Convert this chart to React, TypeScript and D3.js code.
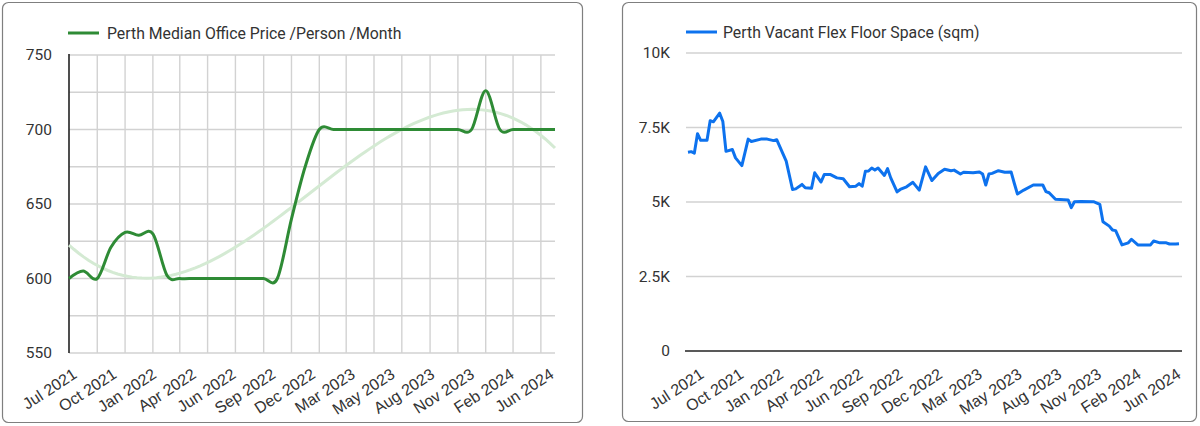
import React from "react";
import * as d3 from "d3";

// ---- Left panel: Perth median office price per person per month (monthly) ----
const priceStart = new Date(2021, 6, 1);
const priceEnd = new Date(2024, 6, 1);
const priceMonths: Date[] = d3.timeMonths(priceStart, priceEnd);
const medianPrice = [
  600, 605, 600, 621, 631, 629, 630, 602, 600, 600, 600, 600,
  600, 600, 600, 600, 640, 675, 700, 700, 700, 700, 700, 700,
  700, 700, 700, 700, 700, 700, 726, 700, 700, 700, 700, 700,
];
const priceTicks = [550, 600, 650, 700, 750];
const priceGridTicks = [550, 575, 600, 625, 650, 675, 700, 725, 750];

// ---- Right panel: vacant flex floor space (weekly samples) ----
const firstWeek = new Date(2021, 6, 5);
const vacantWeek = [
  0, 1, 2, 3, 4, 6, 7, 8, 10, 11, 12, 14, 15, 17, 19, 20, 23, 25, 27, 28,
  31, 33, 34, 36, 37, 39, 40, 42, 43, 45, 47, 49, 51, 53, 54, 55, 56, 57, 58, 59,
  60, 62, 63, 64, 66, 67, 69, 71, 73, 75, 77, 79, 81, 83, 84, 86, 87, 90, 92, 93,
  94, 95, 96, 98, 100, 102, 103, 104, 106, 109, 112, 113, 114, 116, 120, 121, 122, 124, 128, 130,
  131, 133, 134, 135, 137, 139, 140, 142, 146, 147, 149, 151, 152, 154, 155,
];
const vacantSqm = [
  6670, 6690, 6640, 7290, 7070, 7070, 7730, 7690, 7980, 7700, 6700, 6760, 6480, 6220, 7110, 7030, 7110, 7110, 7060, 7090,
  6370, 5420, 5440, 5590, 5480, 5460, 5980, 5670, 5920, 5920, 5810, 5780, 5510, 5530, 5620, 5530, 6030, 6040, 6140, 6070,
  6140, 5890, 6120, 5810, 5340, 5420, 5510, 5660, 5400, 6180, 5720, 5960, 6100, 6050, 6070, 5940, 6000, 5980, 6010, 5940,
  5570, 5940, 5960, 6050, 6000, 6010, 5630, 5270, 5400, 5570, 5570, 5350, 5310, 5090, 5070, 4810, 5010, 5020, 5010, 4920,
  4340, 4190, 4060, 4040, 3560, 3630, 3750, 3560, 3560, 3690, 3630, 3630, 3590, 3590, 3600,
];
const vacantTicks = [0, 2500, 5000, 7500, 10000];

const xTickLabels = [
  "Jul 2021", "Oct 2021", "Jan 2022", "Apr 2022", "Jun 2022", "Sep 2022", "Dec 2022",
  "Mar 2023", "May 2023", "Aug 2023", "Nov 2023", "Feb 2024", "Jun 2024",
];

const priceLabel = "Perth Median Office Price /Person /Month";
const vacantLabel = "Perth Vacant Flex Floor Space (sqm)";

const GREEN = "#2e8b35";
const TREND = "#d4ead3";
const BLUE = "#0d72ee";
const GRID = "#d2d2d2";
const TEXT = "#333333";
const FONT = "Roboto, 'Noto Sans', sans-serif";
const AXIS_FONT = "'Liberation Sans', Arial, sans-serif";

// Least-squares cubic fit used for the trend line
function cubicFit(xs: number[], ys: number[]) {
  const n = 4;
  const A: number[][] = Array.from({ length: n }, () => new Array(n + 1).fill(0));
  xs.forEach((x, k) => {
    for (let r = 0; r < n; r++) {
      for (let c = 0; c < n; c++) A[r][c] += Math.pow(x, r + c);
      A[r][n] += ys[k] * Math.pow(x, r);
    }
  });
  for (let i = 0; i < n; i++) {
    let p = i;
    for (let r = i + 1; r < n; r++) if (Math.abs(A[r][i]) > Math.abs(A[p][i])) p = r;
    [A[i], A[p]] = [A[p], A[i]];
    for (let r = 0; r < n; r++) {
      if (r === i) continue;
      const f = A[r][i] / A[i][i];
      for (let c = i; c <= n; c++) A[r][c] -= f * A[i][c];
    }
  }
  const coef = A.map((row, i) => row[n] / row[i]);
  return (x: number) => coef.reduce((s, c, i) => s + c * Math.pow(x, i), 0);
}

function XLabels({ xs, y }: { xs: d3.ScalePoint<string>; y: number }) {
  return (
    <g fontFamily={AXIS_FONT}>
      {xTickLabels.map((t) => (
        <text
          key={t}
          transform={`translate(${xs(t)},${y}) rotate(-33)`}
          textAnchor="end"
          fontSize={16}
          fill={TEXT}
        >
          {t}
        </text>
      ))}
    </g>
  );
}

function PriceChart() {
  const left = 69, right = 555, top = 55, bottom = 353;
  const x = d3.scaleTime().domain([priceMonths[0], priceMonths[priceMonths.length - 1]]).range([left, right]);
  const y = d3.scaleLinear().domain([550, 750]).range([bottom, top]);
  const data = priceMonths.map((d, i) => ({ d, v: medianPrice[i] }));

  const t0 = +priceMonths[0];
  const span = +priceMonths[priceMonths.length - 1] - t0;
  const fit = cubicFit(priceMonths.map((d) => (+d - t0) / span), medianPrice);
  const trendDates = d3.range(0, 1.0001, 0.01).map((f) => new Date(t0 + f * span));
  const trendLine = d3
    .line<Date>()
    .x((d) => x(d))
    .y((d) => y(fit((+d - t0) / span)))
    .curve(d3.curveLinear);

  const line = d3
    .line<{ d: Date; v: number }>()
    .x((p) => x(p.d))
    .y((p) => y(p.v))
    .curve(d3.curveCardinal.tension(0));

  const vGrid = priceMonths.filter((_, i) => i > 0 && i % 2 === 0);
  const xs = d3.scalePoint<string>().domain(xTickLabels).range([78, 555]);

  return (
    <g>
      <rect x={2.5} y={2.5} width={580} height={420} rx={6} fill="#fff" stroke="#7f7f7f" strokeWidth={1.2} />
      <line x1={68} x2={99} y1={33} y2={33} stroke={GREEN} strokeWidth={3} />
      <text x={107} y={33} dy="0.35em" fontSize={15.8} fill={TEXT}>{priceLabel}</text>

      {priceGridTicks.map((t) => (
        <line key={t} x1={left} x2={right} y1={y(t)} y2={y(t)} stroke={GRID} strokeWidth={1.4} />
      ))}
      {vGrid.map((d) => (
        <line key={+d} x1={x(d)} x2={x(d)} y1={top} y2={bottom} stroke={GRID} strokeWidth={1.4} />
      ))}
      <line x1={left} x2={left} y1={top - 1} y2={bottom} stroke="#222" strokeWidth={1.6} />
      {priceTicks.map((t) => (
        <text key={t} x={52} y={y(t)} dy="0.35em" textAnchor="end" fontSize={15.5} fill={TEXT}>{t}</text>
      ))}

      <path d={trendLine(trendDates) || ""} fill="none" stroke={TREND} strokeWidth={3} />
      <path d={line(data) || ""} fill="none" stroke={GREEN} strokeWidth={3} strokeLinejoin="round" />

      <XLabels xs={xs} y={377} />
    </g>
  );
}

function VacantChart() {
  const left = 686, right = 1182, top = 53, bottom = 351;
  const dates = vacantWeek.map((w) => d3.timeWeek.offset(firstWeek, w));
  const x = d3.scaleTime().domain([dates[0], dates[dates.length - 1]]).range([688, 1179]);
  const y = d3.scaleLinear().domain([0, 10000]).range([bottom, top]);
  const fmt = (v: number) => (v === 0 ? "0" : d3.format("~s")(v).replace("k", "K"));
  const line = d3
    .line<number>()
    .x((_, i) => x(dates[i]))
    .y((v) => y(v))
    .curve(d3.curveLinear);
  const xs = d3.scalePoint<string>().domain(xTickLabels).range([705, 1182]);

  return (
    <g>
      <rect x={622.5} y={2.5} width={574} height={419} rx={6} fill="#fff" stroke="#7f7f7f" strokeWidth={1.2} />
      <line x1={686} x2={717} y1={32} y2={32} stroke={BLUE} strokeWidth={3} />
      <text x={723} y={32} dy="0.35em" fontSize={15.8} fill={TEXT}>{vacantLabel}</text>

      {vacantTicks.filter((t) => t > 0).map((t) => (
        <line key={t} x1={left} x2={right} y1={y(t)} y2={y(t)} stroke={GRID} strokeWidth={1.4} />
      ))}
      <line x1={left - 1} x2={right} y1={y(0)} y2={y(0)} stroke="#222" strokeWidth={1.6} />
      {vacantTicks.map((t) => (
        <text key={t} x={670} y={y(t)} dy="0.35em" textAnchor="end" fontSize={15.5} fill={TEXT}>{fmt(t)}</text>
      ))}

      <path d={line(vacantSqm) || ""} fill="none" stroke={BLUE} strokeWidth={3} strokeLinejoin="round" />

      <XLabels xs={xs} y={377} />
    </g>
  );
}

export default function App() {
  return (
    <svg
      width={1200}
      height={426}
      style={{ position: "absolute", left: 0, top: 0, display: "block", background: "#fff" }}
      fontFamily={FONT}
    >
      <PriceChart />
      <VacantChart />
    </svg>
  );
}
